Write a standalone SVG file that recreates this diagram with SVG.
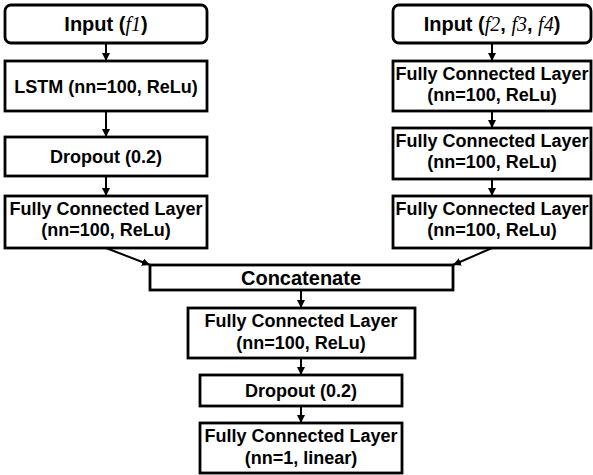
<svg xmlns="http://www.w3.org/2000/svg" width="593" height="475" viewBox="0 0 593 475">
<defs>
<marker id="ah" viewBox="0 0 10 10" refX="10" refY="5" markerWidth="8" markerHeight="8" markerUnits="userSpaceOnUse" orient="auto">
<path d="M0,0 L10,5 L0,10 Z" fill="#000"/>
</marker>
<style>
.box{fill:#fff;stroke:#000;stroke-width:2.8}
.t{font-family:"Liberation Sans",Arial,sans-serif;font-weight:bold;font-size:18px;text-anchor:middle;fill:#000}
.big{font-size:20px}
.it{font-family:"Liberation Serif","Times New Roman",serif;font-style:italic;font-weight:normal}
.c{stroke:#000;stroke-width:2;fill:none;marker-end:url(#ah)}
</style>
</defs>
<rect width="593" height="475" fill="#fff"/>
<g id="connectors">
<line class="c" x1="106" y1="43" x2="106" y2="61"/>
<line class="c" x1="106" y1="111" x2="106" y2="137"/>
<line class="c" x1="106" y1="176" x2="106" y2="196"/>
<line class="c" x1="492" y1="43" x2="492" y2="61"/>
<line class="c" x1="492" y1="111" x2="492" y2="128"/>
<line class="c" x1="492" y1="179" x2="492" y2="196"/>
<line class="c" x1="106" y1="248" x2="150" y2="265"/>
<line class="c" x1="492" y1="248" x2="453" y2="265"/>
<line class="c" x1="301" y1="290" x2="301" y2="308"/>
<line class="c" x1="301" y1="358" x2="301" y2="375"/>
<line class="c" x1="301" y1="406" x2="301" y2="423"/>
</g>
<g id="input_f1">
<rect class="box" x="5" y="5" width="202" height="38" rx="6"/>
<text class="t big" x="106" y="31">Input (<tspan class="it">f1</tspan>)</text>
</g>
<g id="lstm">
<rect class="box" x="5" y="61" width="202" height="50"/>
<text class="t" x="106" y="93">LSTM (nn=100, ReLu)</text>
</g>
<g id="dropout_left">
<rect class="box" x="5" y="137" width="202" height="39"/>
<text class="t" x="106" y="163">Dropout (0.2)</text>
</g>
<g id="fc_left">
<rect class="box" x="5" y="196" width="202" height="52"/>
<text class="t" x="106" y="215">Fully Connected Layer</text>
<text class="t" x="106" y="236">(nn=100, ReLu)</text>
</g>
<g id="input_f234">
<rect class="box" x="393" y="5" width="198" height="38" rx="6"/>
<text class="t big" x="492" y="31">Input (<tspan class="it">f2</tspan>, <tspan class="it">f3</tspan>, <tspan class="it">f4</tspan>)</text>
</g>
<g id="fc_right1">
<rect class="box" x="393" y="61" width="198" height="50"/>
<text class="t" x="492" y="80">Fully Connected Layer</text>
<text class="t" x="492" y="101">(nn=100, ReLu)</text>
</g>
<g id="fc_right2">
<rect class="box" x="393" y="128" width="198" height="51"/>
<text class="t" x="492" y="147">Fully Connected Layer</text>
<text class="t" x="492" y="168">(nn=100, ReLu)</text>
</g>
<g id="fc_right3">
<rect class="box" x="393" y="196" width="198" height="52"/>
<text class="t" x="492" y="215">Fully Connected Layer</text>
<text class="t" x="492" y="236">(nn=100, ReLu)</text>
</g>
<g id="concatenate">
<rect class="box" x="150" y="265" width="303" height="25"/>
<text class="t big" x="301" y="284.5">Concatenate</text>
</g>
<g id="fc_mid">
<rect class="box" x="188" y="308" width="227" height="50"/>
<text class="t" x="301" y="327">Fully Connected Layer</text>
<text class="t" x="301" y="349">(nn=100, ReLu)</text>
</g>
<g id="dropout_mid">
<rect class="box" x="200" y="375" width="202" height="31"/>
<text class="t" x="301" y="397">Dropout (0.2)</text>
</g>
<g id="fc_out">
<rect class="box" x="200" y="423" width="202" height="50"/>
<text class="t" x="301" y="442">Fully Connected Layer</text>
<text class="t" x="301" y="464">(nn=1, linear)</text>
</g>
</svg>
